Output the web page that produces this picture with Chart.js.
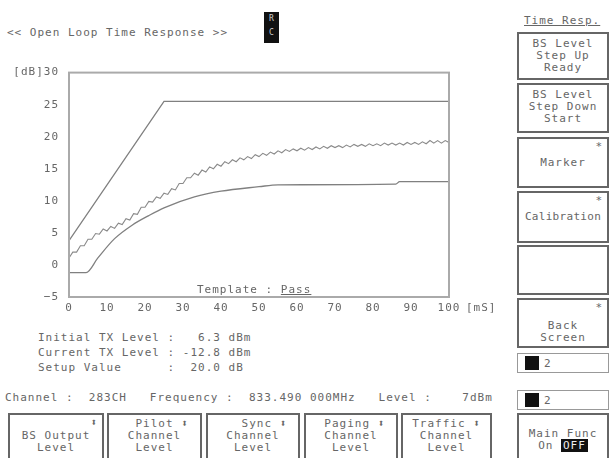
<!DOCTYPE html>
<html>
<head>
<meta charset="UTF-8" />
<title>Open Loop Time Response</title>
<script src="https://cdn.jsdelivr.net/npm/chart.js"></script>
<style>
  body { margin: 0; width: 611px; height: 458px; overflow: hidden; background: #fff;
         font-family: "DejaVu Sans Mono", monospace; font-size: 11px; letter-spacing: 1px; color: #666; position: relative; }
  .t { position: absolute; white-space: pre; line-height: 12px; }
  .box { position: absolute; border: 2px solid #666; background: #fff; box-sizing: border-box;
         text-align: center; line-height: 12px; color: #666; white-space: pre; }
  .star { position: absolute; right: 4px; top: 2px; }
  .small { position: absolute; border: 1px solid #999; box-sizing: border-box; height: 20px; left: 517px; width: 92px; }
  .small .blk { position: absolute; left: 7px; top: 2px; width: 14px; height: 14px; background: #111; }
  .small .n { position: absolute; left: 26px; top: 3px; }
  #chart { position: absolute; left: 0; top: 56px; }
</style>
</head>
<body>
<div class="t" style="left:7px; top:27px;">&lt;&lt; Open Loop Time Response &gt;&gt;</div>
<div class="t" style="left:264px; top:12px; width:15px; height:31px; background:#111; color:#ccc; font-size:8px; letter-spacing:0; line-height:14px; text-align:center;">R<br>C</div>

<canvas id="chart" width="500" height="260"></canvas>

<div class="t" style="left:197px; top:284px;">Template : <span style="text-decoration:underline;">Pass</span></div>
<div class="t" style="left:466px; top:302px;">[mS]</div>

<div class="t" style="left:38px; top:332px;">Initial TX Level :   6.3 dBm</div>
<div class="t" style="left:38px; top:347px;">Current TX Level : -12.8 dBm</div>
<div class="t" style="left:38px; top:362px;">Setup Value      :  20.0 dB</div>

<div class="t" style="left:5px; top:392px;">Channel :  283CH   Frequency :  833.490 000MHz   Level :    7dBm</div>

<div class="box" style="left:8px; top:413px; width:96px; height:52px;"><span class="star">⬍</span><div style="padding-top:15px;">BS Output<br>Level</div></div>
<div class="box" style="left:107px; top:413px; width:95px; height:52px;"><div style="padding-top:3px;">  Pilot ⬍<br>Channel<br>Level</div></div>
<div class="box" style="left:206px; top:413px; width:94px; height:52px;"><div style="padding-top:3px;">   Sync ⬍<br>Channel<br>Level</div></div>
<div class="box" style="left:304px; top:413px; width:94px; height:52px;"><div style="padding-top:3px;"> Paging ⬍<br>Channel<br>Level</div></div>
<div class="box" style="left:401px; top:413px; width:91px; height:52px;"><div style="padding-top:3px;">Traffic ⬍<br>Channel<br>Level</div></div>

<div class="t" style="left:524px; top:15px; text-decoration:underline;">Time Resp.</div>
<div class="box" style="left:517px; top:32px; width:92px; height:48px;"><div style="padding-top:4px;">BS Level<br>Step Up<br>Ready</div></div>
<div class="box" style="left:517px; top:83px; width:92px; height:50px;"><div style="padding-top:4px;">BS Level<br>Step Down<br>Start</div></div>
<div class="box" style="left:517px; top:137px; width:92px; height:51px;"><span class="star">*</span><div style="padding-top:18px;">Marker</div></div>
<div class="box" style="left:517px; top:191px; width:92px; height:52px;"><span class="star">*</span><div style="padding-top:18px; letter-spacing:0.3px;">Calibration</div></div>
<div class="box" style="left:517px; top:245px; width:92px; height:50px;"></div>
<div class="box" style="left:517px; top:298px; width:92px; height:50px;"><span class="star">*</span><div style="padding-top:20px;">Back<br>Screen</div></div>
<div class="small" style="top:353px;"><div class="blk"></div><div class="n">2</div></div>
<div class="small" style="top:390px;"><div class="blk"></div><div class="n">2</div></div>
<div class="box" style="left:517px; top:413px; width:92px; height:52px;"><div style="padding-top:13px;">Main Func<br>On <span style="background:#111; color:#eee; padding:0 2px;">OFF</span></div></div>

<script>
// time axis [mS], level [dB]
const xTicks = [0, 10, 20, 30, 40, 50, 60, 70, 80, 90, 100];
const yTicks = [-5, 0, 5, 10, 15, 20, 25, 30];

const upperTime = [0, 25, 100];
const upperLevel = [3.8, 25.5, 25.5];

const lowerTime = [0, 4.5, 7.6, 12, 16.6, 21, 25, 33, 40, 50, 55, 86, 87, 100];
const lowerLevel = [-1.2, -1.2, 1.1, 4.1, 6.2, 7.7, 8.9, 10.6, 11.5, 12.2, 12.5, 12.6, 13.0, 13.0];

const measTime = [0, 1, 2, 3, 4, 5, 6, 7, 8, 9, 10, 11, 12, 13, 14, 15, 16, 17, 18, 19,
  20, 21, 22, 23, 24, 25, 26, 27, 28, 29, 30, 31, 32, 33, 34, 35, 36, 37, 38, 39,
  40, 41, 42, 43, 44, 45, 46, 47, 48, 49, 50, 51, 52, 53, 54, 55, 56, 57, 58, 59,
  60, 61, 62, 63, 64, 65, 66, 67, 68, 69, 70, 71, 72, 73, 74, 75, 76, 77, 78, 79,
  80, 81, 82, 83, 84, 85, 86, 87, 88, 89, 90, 91, 92, 93, 94, 95, 96, 97, 98, 99, 100];
const measLevel = [1.1, 2.0, 2.0, 3.0, 3.0, 4.0, 4.0, 4.9, 4.8, 5.6, 5.3, 6.0, 5.7, 6.5, 6.3, 7.2, 7.0, 8.0, 7.9, 9.0,
  9.0, 9.9, 9.8, 10.6, 10.4, 11.2, 11.0, 11.9, 11.7, 12.7, 12.7, 13.6, 13.6, 14.3, 14.0, 14.8, 14.5, 15.3, 15.0, 15.7,
  15.4, 16.1, 15.8, 16.4, 16.1, 16.7, 16.4, 16.9, 16.6, 17.2, 16.9, 17.4, 17.1, 17.6, 17.3, 17.8, 17.5, 18.0, 17.7, 18.1,
  17.8, 18.2, 17.9, 18.3, 18.0, 18.4, 18.1, 18.5, 18.2, 18.6, 18.3, 18.6, 18.3, 18.7, 18.4, 18.8, 18.5, 18.8, 18.5, 18.9,
  18.6, 18.9, 18.6, 19.0, 18.7, 19.0, 18.7, 19.0, 18.7, 19.1, 18.8, 19.1, 18.8, 19.2, 18.9, 19.4, 19.0, 19.4, 19.0, 19.4, 19.1];

const pts = (xs, ys) => xs.map((x, i) => ({ x: x, y: ys[i] }));

// plot frame
const frame = {
  id: 'frame',
  afterDatasetsDraw(chart) {
    const a = chart.chartArea, c = chart.ctx;
    c.save();
    c.strokeStyle = '#aaa';
    c.lineWidth = 2;
    c.strokeRect(a.left, a.top, a.right - a.left, a.bottom - a.top);
    c.restore();
  }
};

const line = (data, color, w, smooth) => ({
  data: data, borderColor: color, borderWidth: w, pointRadius: 0, fill: false,
  cubicInterpolationMode: smooth ? 'monotone' : 'default', tension: 0
});

new Chart(document.getElementById('chart'), {
  type: 'line',
  data: {
    datasets: [
      line(pts(upperTime, upperLevel), '#808080', 1.3, false),
      line(pts(lowerTime, lowerLevel), '#808080', 1.3, true),
      line(pts(measTime, measLevel), '#8a8a8a', 1.1, false)
    ]
  },
  options: {
    responsive: false,
    animation: false,
    devicePixelRatio: 1,
    layout: { padding: { top: 10, right: 51, bottom: 0, left: 0 } },
    plugins: { legend: { display: false }, tooltip: { enabled: false } },
    scales: {
      x: {
        type: 'linear', min: 0, max: 100,
        afterBuildTicks: s => { s.ticks = xTicks.map(v => ({ value: v })); },
        afterFit: s => { s.height = 19; },
        grid: { display: false, drawTicks: false },
        border: { display: false },
        ticks: { color: '#666', padding: 5, maxRotation: 0, autoSkip: false,
                  font: { family: 'DejaVu Sans Mono', size: 11 } }
      },
      y: {
        min: -5, max: 30,
        afterBuildTicks: s => { s.ticks = yTicks.map(v => ({ value: v })); },
        afterFit: s => { s.width = 69; },
        grid: { display: false, drawTicks: false },
        border: { display: false },
        ticks: { color: '#666', padding: 10,
                  font: { family: 'DejaVu Sans Mono', size: 11 },
                  callback: v => v === 30 ? '[dB]30' : (v < 0 ? '\u2212' + (-v) : String(v)) }
      }
    }
  },
  plugins: [frame]
});
</script>
</body>
</html>
